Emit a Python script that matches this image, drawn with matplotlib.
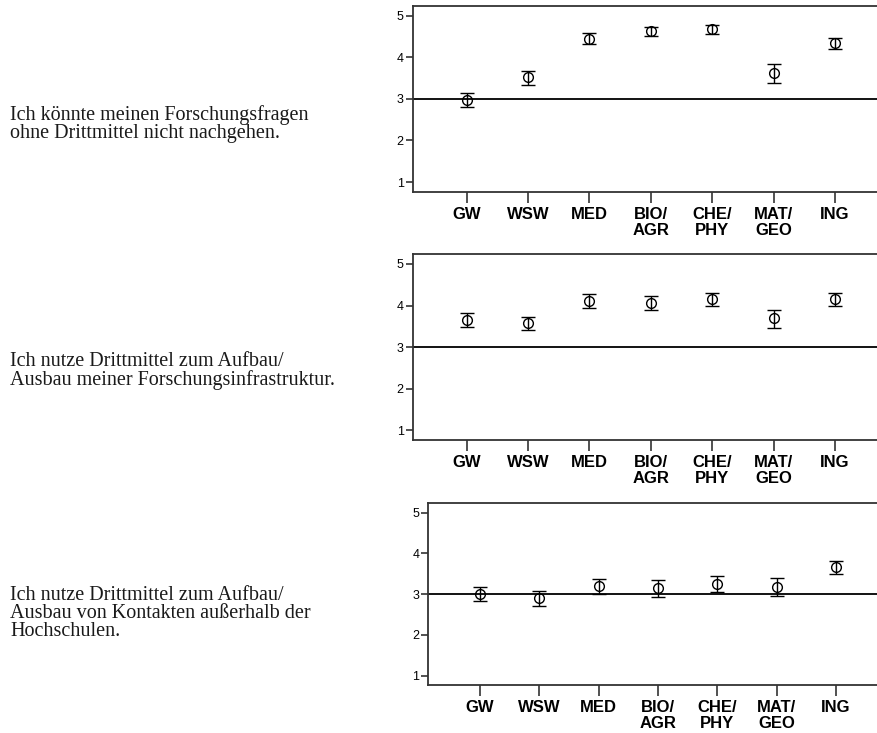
import matplotlib
matplotlib.use("Agg")
import matplotlib.pyplot as plt

# fields of study (x axis)
fields = ["GW", "WSW", "MED", "BIO/\nAGR", "CHE/\nPHY", "MAT/\nGEO", "ING"]

# statements shown left of each panel
statements = [
    "Ich könnte meinen Forschungsfragen\nohne Drittmittel nicht nachgehen.",
    "Ich nutze Drittmittel zum Aufbau/\nAusbau meiner Forschungsinfrastruktur.",
    "Ich nutze Drittmittel zum Aufbau/\nAusbau von Kontakten außerhalb der\nHochschulen.",
]

# means and confidence interval bounds
mean_1 = [2.98, 3.52, 4.44, 4.62, 4.67, 3.62, 4.34]
low_1 = [2.80, 3.34, 4.31, 4.50, 4.55, 3.38, 4.20]
high_1 = [3.14, 3.68, 4.57, 4.73, 4.78, 3.83, 4.47]

mean_2 = [3.66, 3.58, 4.12, 4.07, 4.16, 3.70, 4.16]
low_2 = [3.48, 3.40, 3.93, 3.90, 4.00, 3.47, 4.00]
high_2 = [3.82, 3.73, 4.28, 4.23, 4.31, 3.90, 4.30]

mean_3 = [3.01, 2.90, 3.19, 3.15, 3.25, 3.18, 3.66]
low_3 = [2.84, 2.72, 3.01, 2.94, 3.06, 2.96, 3.49]
high_3 = [3.17, 3.07, 3.38, 3.35, 3.44, 3.40, 3.82]

yticks = [1, 2, 3, 4, 5]
reference = 3

W, H = 878, 733
fig = plt.figure(figsize=(W / 100, H / 100), dpi=100)

# axes boxes in pixels: left, top, right, bottom ; xlim
boxes = [
    (412.7, 6, 878, 191.7, (0.12, 7.70)),
    (412.7, 254.3, 878, 440, (0.12, 7.70)),
    (428.3, 503.3, 878, 685, (0.13, 7.71)),
]
text_y = [124, 371, 613.5]

panels = [(mean_1, low_1, high_1), (mean_2, low_2, high_2), (mean_3, low_3, high_3)]

x = list(range(1, len(fields) + 1))
spine_col = "#333333"

for (means, lows, highs), (l, t, r, b, xl), stmt, ty in zip(panels, boxes, statements, text_y):
    ax = fig.add_axes([l / W, 1 - b / H, (r - l) / W, (b - t) / H])
    err = [[m - lo for m, lo in zip(means, lows)], [hi - m for m, hi in zip(means, highs)]]
    ax.axhline(reference, color="black", lw=1.3, zorder=1)
    ax.errorbar(x, means, yerr=err, fmt="o", mfc="none", mec="black", ms=7, mew=1.0,
                ecolor="black", elinewidth=1.0, capsize=5, capthick=1.3, zorder=3)
    ax.set_xlim(*xl)
    ax.set_ylim(0.77, 5.23)
    ax.set_xticks(x)
    ax.set_xticklabels(fields, fontfamily="Liberation Sans", fontweight="bold", fontsize=12,
                       linespacing=1.05)
    ax.set_yticks(yticks)
    ax.set_yticklabels([str(v) for v in yticks], fontfamily="Liberation Sans", fontsize=9)
    ax.tick_params(axis="x", direction="out", length=8, width=1.2, color=spine_col, pad=3)
    ax.tick_params(axis="y", direction="out", length=5, width=1.2, color=spine_col, pad=1.5)
    for s in ["left", "top", "bottom"]:
        ax.spines[s].set_linewidth(1.3)
        ax.spines[s].set_color(spine_col)
    ax.spines["right"].set_visible(False)

    fig.text(10 / W, 1 - ty / H, stmt, ha="left", va="center", fontfamily="Liberation Serif",
             fontsize=14.5, linespacing=0.96, color="#1a1a1a")

fig.savefig("out.png", dpi=100)
